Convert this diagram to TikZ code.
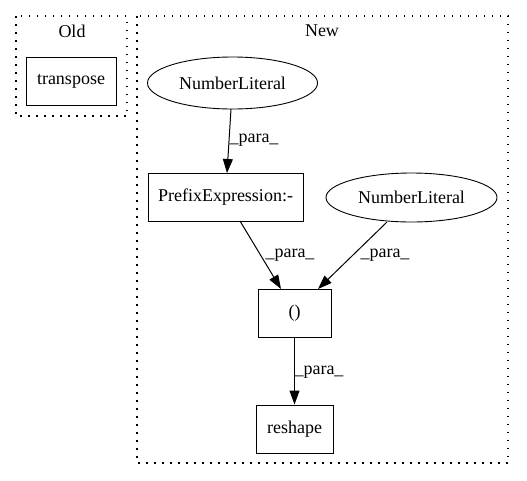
\documentclass[tikz,border=0pt]{standalone}
\usepackage{fontspec}
\setmainfont{Liberation Serif}
\usetikzlibrary{arrows.meta,shapes.geometric}
\begin{document}
\begin{tikzpicture}[x=1pt,y=-1pt,
  every node/.style={font=\fontsize{18}{20}\selectfont},
  boxnode/.style={draw,line width=1pt,rectangle,inner sep=0pt},
  ellnode/.style={draw,line width=0.9pt,ellipse,inner sep=0pt},
  cluster/.style={draw,line width=1.1pt,dash pattern=on 1.5pt off 6.5pt},
  edge/.style={draw,line width=1pt,-{Triangle[length=14pt,width=10pt]}},
  lab/.style={inner sep=0pt}]
\useasboundingbox (0,0) rectangle (527,480);
\draw[cluster] (16,16) rectangle (127,116);
\node[lab] (oldlab) at (72,31) {Old};
\draw[cluster] (137,16) rectangle (508,463);
\node[lab] (newlab) at (322,31) {New};
\node[boxnode,minimum width=90pt,minimum height=48pt] (tr) at (71,81) {transpose};
\node[ellnode,minimum width=170pt,minimum height=52pt] (nl1) at (232.5,83) {NumberLiteral};
\node[boxnode,minimum width=155pt,minimum height=48pt] (pe) at (225.5,197) {PrefixExpression:-};
\node[ellnode,minimum width=171pt,minimum height=49pt] (nl2) at (411.5,197.5) {NumberLiteral};
\node[boxnode,minimum width=73pt,minimum height=48pt] (par) at (294.5,313) {()};
\node[boxnode,minimum width=77pt,minimum height=48pt] (rs) at (294.5,429) {reshape};
\draw[edge] (231,109) -- (227,173);
\draw[edge] (240,221) -- (281,289);
\draw[edge] (387,222) -- (318,289);
\draw[edge] (par) -- (rs);
\node[lab] (l1) at (254,140) {\_para\_};
\node[lab] (l2) at (290,255) {\_para\_};
\node[lab] (l3) at (385,255) {\_para\_};
\node[lab] (l4) at (319,372) {\_para\_};
\end{tikzpicture}
\end{document}
